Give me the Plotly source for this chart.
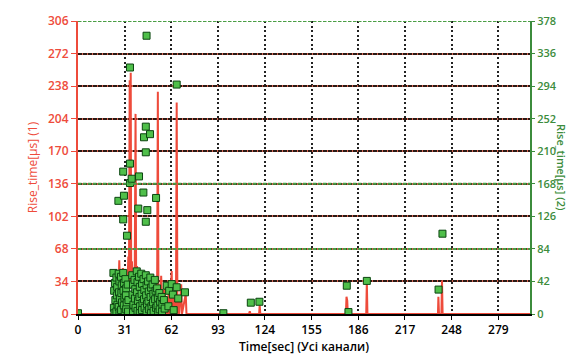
import plotly.graph_objects as go

# ---- data ----
x_ticks = [0, 31, 62, 93, 124, 155, 186, 217, 248, 279]
y1_ticks = [0, 34, 68, 102, 136, 170, 204, 238, 272, 306]
y2_ticks = [0, 42, 84, 126, 168, 210, 252, 294, 336, 378]

red_t = [0, 22.5, 23.5, 24, 24.8, 25.5, 26.2, 26.8, 27.4, 28, 28.6, 29.2, 29.8, 30.4, 31, 31.6, 32.2, 32.8,
         33.4, 33.8, 34.3, 34.6, 35.0, 35.3, 35.8, 36.4, 37, 37.6, 38.2, 38.6, 39.2, 39.8, 40.4, 41, 41.6,
         42.2, 42.8, 43.4, 44, 44.6, 45.2, 45.8, 46.4, 47, 47.6, 48.2, 48.8, 49.4, 50, 50.6, 51.2, 51.8,
         52.5, 53.0, 53.4, 54, 54.6, 55.2, 55.8, 56.4, 57, 57.6, 58.2, 59, 59.6, 60.2, 60.8, 61.5, 62.2,
         62.6, 63.2, 63.8, 64.5, 65.0, 65.5, 66, 66.6, 67.2, 68.5, 69, 71.5, 72, 113.5, 114, 114.5, 120.2,
         120.6, 121, 177.8, 178.2, 178.7, 179.1, 191.3, 191.7, 192.1, 238.9, 239.2, 239.6, 241.2, 241.6,
         242, 300]
red_v = [0, 0, 18, 8, 30, 12, 40, 20, 56, 22, 35, 15, 48, 25, 38, 18, 42, 28,
         60, 20, 244, 30, 252, 40, 55, 30, 45, 25, 209, 35, 50, 22, 40, 18, 35,
         20, 38, 15, 30, 18, 34, 14, 28, 12, 30, 10, 25, 8, 22, 10, 36, 12,
         20, 232, 15, 30, 8, 40, 12, 25, 5, 32, 0, 18, 0, 26, 0, 30, 45,
         0, 22, 0, 28, 0, 221, 0, 20, 0, 31, 0, 21, 0, 0, 3, 0, 0,
         9, 0, 0, 18, 14, 0, 0, 34.5, 0, 0, 18, 0, 0, 35,
         0, 0]

green_t = [0, 26.8, 30, 30, 30.5, 32.5, 34.5, 34.5, 34.5, 35.6, 40.5, 40, 43.4, 43.8, 45, 45, 45, 45.5,
           46, 47.8, 51.8, 65.5, 96.5, 114.7, 120.4, 178.4, 179.5, 191.7, 239.3, 241.9,
           23.5, 24.5, 24, 24.8, 23.8, 24.2, 25.5, 26, 25.8, 26.2, 25.5, 27, 27.5, 27.2, 27.8, 27, 27.5,
           28.5, 29, 28.8, 29.2, 28.6, 30, 30.5, 30.2, 30.8, 30.4, 31, 31.5, 32, 31.8, 32.3, 32, 33, 33.5,
           33.2, 36, 36.5, 36.2, 36.8, 36.5, 37.5, 38, 37.8, 38.2, 39, 39.5, 39.2, 39.8, 39.5, 40.5, 41,
           40.8, 41.2, 41, 42, 42.5, 42.2, 42.8, 42.5, 43.5, 44, 43.8, 44.2, 45, 45.5, 45.2, 45.8, 45.5,
           46.5, 47, 46.8, 47.2, 48, 48.5, 48.2, 48.8, 48.5, 49.5, 50, 49.8, 50.2, 51, 51.5, 51.2, 51.8,
           52.5, 53, 52.8, 53.2, 54, 54.5, 54.2, 55.5, 56, 55.8, 57, 57.5, 58.9, 60.5, 62.2, 63, 65.5,
           66.5, 71, 60, 63.5]
green_v = [1, 146, 122, 183.7, 152.6, 101, 194, 169, 318, 174.5, 177.5, 136, 156.7, 228, 241.7, 208.6, 119, 359,
           134, 232, 149.7, 296, 1, 14.6, 15.8, 36.5, 2.5, 42.7, 31.5, 103.6,
           53, 40, 30, 18, 8, 1, 47, 35, 24, 12, 3, 52, 42, 28, 20, 9, 2,
           48, 37, 27, 15, 5, 53, 40, 30, 21, 11, 2, 45, 33, 24, 14, 6, 38, 18,
           3, 50, 38, 25, 12, 2, 44, 32, 20, 8, 55, 41, 28, 17, 4, 48, 35,
           22, 10, 1, 52, 39, 26, 14, 5, 45, 31, 19, 8, 50, 37, 24, 13, 2,
           42, 29, 17, 6, 47, 34, 22, 10, 1, 38, 26, 15, 4, 44, 30, 19, 8,
           33, 21, 11, 2, 27, 16, 6, 22, 12, 3, 18, 7, 36.5, 30, 38.6, 25, 34.5,
           20, 28, 10, 5]

RED = "#ee4b3b"
GREEN_TXT = "#3c8c3c"
FONT = "Open Sans"

fig = go.Figure()
fig.add_trace(go.Scatter(x=red_t, y=red_v, mode="lines", line=dict(color=RED, width=2),
                         yaxis="y", showlegend=False))
fig.add_trace(go.Scatter(x=green_t, y=green_v, mode="markers", yaxis="y2", showlegend=False,
                         marker=dict(symbol="square", size=7, color="#4fbf4a",
                                     line=dict(color="#0b4510", width=1))))

fig.update_layout(
    width=572, height=363,
    margin=dict(l=78, r=42, t=17, b=42),
    paper_bgcolor="white", plot_bgcolor="white",
    font=dict(family=FONT, size=12, color="black"),
    xaxis=dict(range=[0, 300], tickvals=x_ticks, ticks="outside", ticklen=4, tickcolor="black",
               showline=True, linecolor="black", linewidth=2, zeroline=False,
               showgrid=True, gridcolor="#222222", gridwidth=2, griddash="2px,2.5px",
               tickfont=dict(family=FONT, size=12, color="black", weight=600),
               title=dict(text="Time[sec] (Усі канали)", standoff=4,
                          font=dict(family=FONT, size=12, color="black", weight=600))),
    yaxis=dict(range=[0, 306], tickvals=y1_ticks, ticks="outside", ticklen=5, tickcolor=RED,
               showline=True, linecolor=RED, linewidth=2, zeroline=False,
               showgrid=True, gridcolor="#2a1a14", gridwidth=2, griddash="3.5px,1.5px",
               tickfont=dict(family=FONT, size=12, color=RED, weight=600),
               title=dict(text="Rise_time[µs] (1)", standoff=8,
                          font=dict(family=FONT, size=12, color=RED))),
    yaxis2=dict(range=[0, 378], tickvals=y2_ticks, overlaying="y", side="right",
                ticks="outside", ticklen=3, tickcolor=GREEN_TXT,
                showline=True, linecolor=GREEN_TXT, linewidth=2, zeroline=False,
                showgrid=True, gridcolor="#d8624f", gridwidth=2, griddash="0px,3.5px,1.5px,0px",
                tickfont=dict(family=FONT, size=11, color=GREEN_TXT, weight=600)),
)

# green-dashed rows where the two grids coincide visually
for yv in [68, 136, 306]:
    fig.add_shape(type="line", xref="paper", x0=0, x1=1, yref="y", y0=yv, y1=yv,
                  line=dict(color="#4a9e44", width=2, dash="3.5px,1.5px"), layer="above")

fig.add_annotation(text="Rise_time[µs] (2)", xref="paper", yref="paper", x=1.0, y=0.5,
                   xanchor="left", yanchor="middle", xshift=22, textangle=90, showarrow=False,
                   font=dict(family=FONT, size=11, color=GREEN_TXT, weight=600))

fig.write_html("out.html")
